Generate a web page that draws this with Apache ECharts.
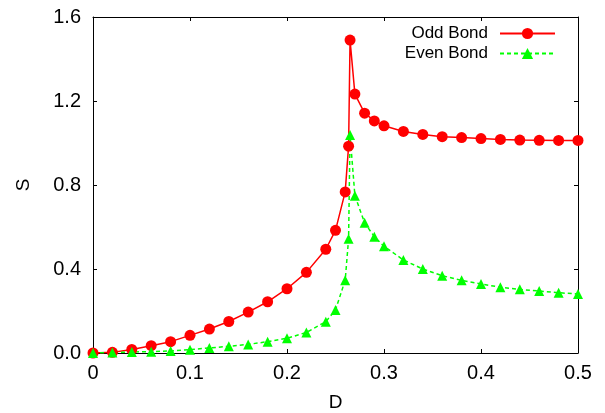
<!DOCTYPE html>
<html>
<head>
<meta charset="utf-8">
<script src="https://cdn.jsdelivr.net/npm/echarts@6/dist/echarts.min.js"></script>
<style>html,body{margin:0;padding:0;background:#fff}#c{width:605px;height:413px}</style>
</head>
<body>
<div id="c"></div>
<script>
const oddX = [0, 0.02, 0.04, 0.06, 0.08, 0.10, 0.12, 0.14, 0.16, 0.18, 0.20, 0.22, 0.24, 0.25, 0.26, 0.2635, 0.265, 0.27, 0.28, 0.29, 0.30, 0.32, 0.34, 0.36, 0.38, 0.40, 0.42, 0.44, 0.46, 0.48, 0.50];
const oddS = [0, 0.003, 0.017, 0.035, 0.054, 0.084, 0.114, 0.150, 0.195, 0.244, 0.306, 0.384, 0.494, 0.584, 0.767, 0.985, 1.490, 1.233, 1.142, 1.105, 1.082, 1.055, 1.041, 1.030, 1.026, 1.021, 1.017, 1.014, 1.013, 1.012, 1.012];
const evenX = [0, 0.02, 0.04, 0.06, 0.08, 0.10, 0.12, 0.14, 0.16, 0.18, 0.20, 0.22, 0.24, 0.25, 0.26, 0.2635, 0.265, 0.27, 0.28, 0.29, 0.30, 0.32, 0.34, 0.36, 0.38, 0.40, 0.42, 0.44, 0.46, 0.48, 0.50];
const evenS = [0, 0.002, 0.005, 0.006, 0.010, 0.016, 0.024, 0.032, 0.041, 0.054, 0.070, 0.098, 0.149, 0.205, 0.347, 0.544, 1.038, 0.749, 0.620, 0.554, 0.508, 0.443, 0.400, 0.368, 0.346, 0.329, 0.313, 0.303, 0.295, 0.287, 0.281];
const xTicks = [0, 0.1, 0.2, 0.3, 0.4, 0.5];
const yTicks = [0.0, 0.4, 0.8, 1.2, 1.6];
const seriesNames = ['Odd Bond', 'Even Bond'];

const FONT = '"Liberation Sans", Arial, sans-serif';
const chart = echarts.init(document.getElementById('c'), null, {renderer: 'canvas'});
const pairs = (xs, ys) => xs.map((x, i) => [x, ys[i]]);
const axisCommon = {
  axisLine: {show: true, onZero: false, lineStyle: {color: '#000', width: 1}},
  axisTick: {show: true, inside: true, length: 4, lineStyle: {color: '#000'}},
  splitLine: {show: false}
};
chart.setOption({
  animation: false,
  backgroundColor: '#fff',
  textStyle: {fontFamily: FONT},
  grid: {left: 93, right: 27, top: 17, bottom: 60, containLabel: false, outerBoundsMode: 'none'},
  legend: {
    orient: 'vertical', right: 44, top: 20, align: 'right',
    itemWidth: 55, itemHeight: 14, itemGap: 3,
    textStyle: {fontSize: 17, color: '#000', fontFamily: FONT, padding: [0, 7, 0, 0]},
    data: seriesNames
  },
  xAxis: [
    Object.assign({
      type: 'value', min: xTicks[0], max: xTicks[xTicks.length - 1], interval: 0.1,
      name: 'D', nameLocation: 'middle', nameGap: 40,
      nameTextStyle: {fontSize: 19, color: '#000', fontFamily: FONT},
      axisLabel: {fontSize: 20, color: '#000', margin: 10, fontFamily: FONT,
        formatter: v => (Math.abs(v) < 1e-9 ? '0' : v.toFixed(1))}
    }, axisCommon),
    Object.assign({
      type: 'value', position: 'top', min: 0, max: 0.5, interval: 0.1,
      axisLabel: {show: false}
    }, axisCommon)
  ],
  yAxis: [
    Object.assign({
      type: 'value', min: yTicks[0], max: yTicks[yTicks.length - 1], interval: 0.4,
      name: 'S', nameLocation: 'middle', nameGap: 60,
      nameTextStyle: {fontSize: 19, color: '#000', fontFamily: FONT},
      axisLabel: {fontSize: 20, color: '#000', margin: 12, fontFamily: FONT,
        formatter: v => v.toFixed(1)}
    }, axisCommon),
    Object.assign({
      type: 'value', position: 'right', min: 0, max: 1.6, interval: 0.4,
      axisLabel: {show: false}
    }, axisCommon)
  ],
  series: [
    {
      name: seriesNames[0], type: 'line', data: pairs(oddX, oddS),
      symbol: 'circle', symbolSize: 11, showAllSymbol: true,
      itemStyle: {color: '#ff0000'},
      lineStyle: {color: '#ff0000', width: 1.5, type: 'solid'}
    },
    {
      name: seriesNames[1], type: 'line', data: pairs(evenX, evenS),
      symbol: 'triangle', symbolSize: 10, showAllSymbol: true,
      itemStyle: {color: '#00ff00'},
      lineStyle: {color: '#00ff00', width: 1.5, type: [4, 3]}
    }
  ]
});
</script>
</body>
</html>
